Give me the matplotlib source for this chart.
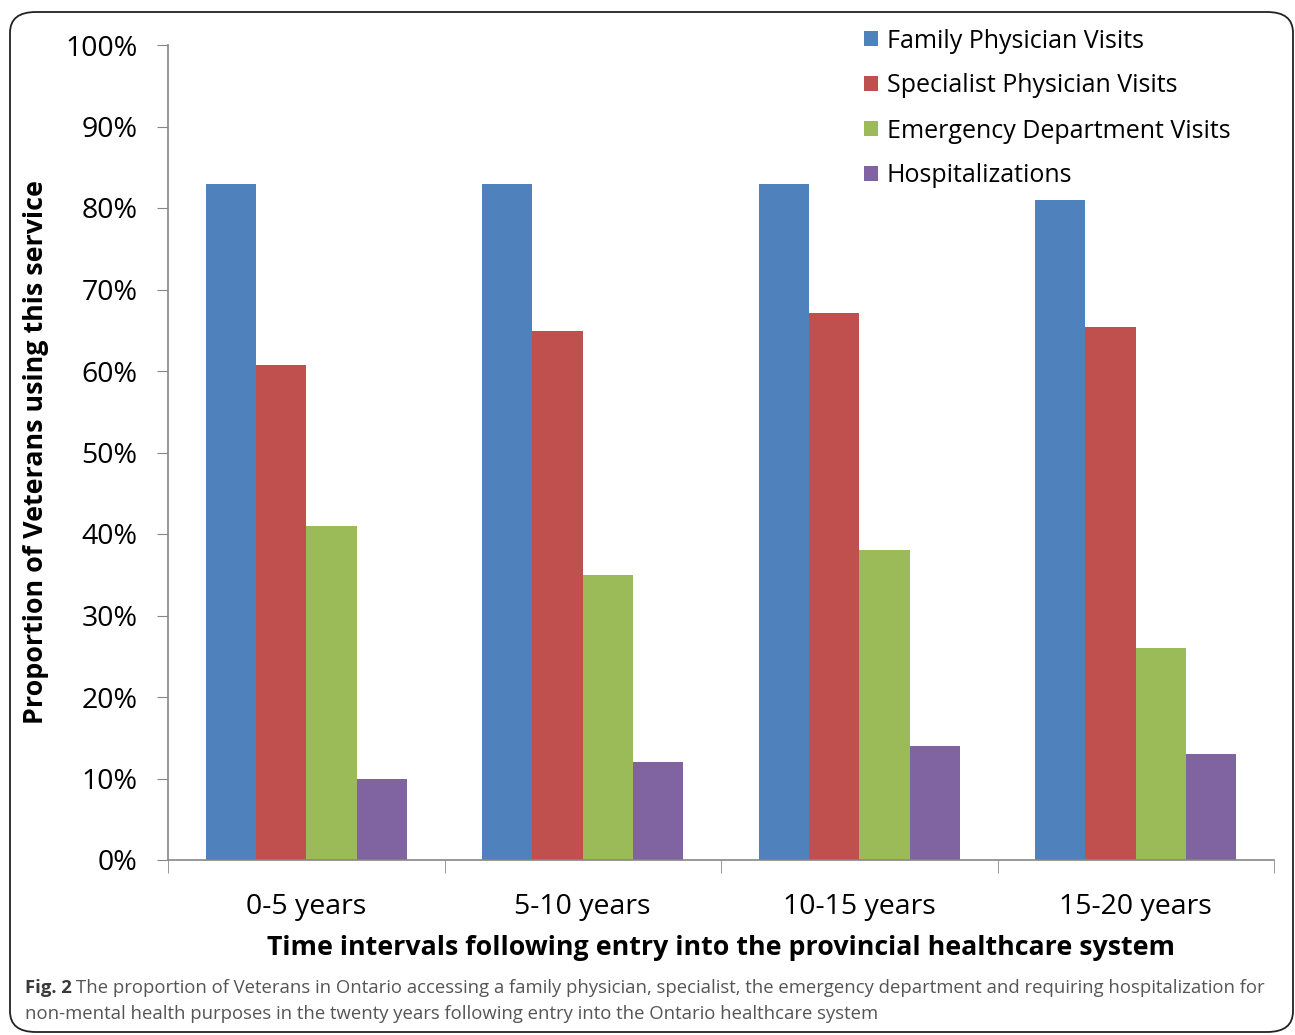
import matplotlib
matplotlib.use('Agg')
import matplotlib.pyplot as plt
from matplotlib.patches import FancyBboxPatch
from matplotlib.ticker import PercentFormatter
import numpy as np

plt.rcParams['font.family'] = ['Open Sans', 'DejaVu Sans']

# data
intervals = ['0-5 years', '5-10 years', '10-15 years', '15-20 years']
series = ['Family Physician Visits', 'Specialist Physician Visits',
          'Emergency Department Visits', 'Hospitalizations']
family = [83, 83, 83, 81]
specialist = [60.7, 64.9, 67.1, 65.4]
emergency = [41, 35, 38, 26]
hospital = [10, 12, 14, 13]
colors = ['#4f81bd', '#c0504d', '#9bbb59', '#8064a2']

fig = plt.figure(figsize=(12.95, 10.35), dpi=100)
ax = fig.add_axes([168/1295, 1-860/1035, (1274-168)/1295, (860-45)/1035])

x = np.arange(len(intervals))
w = 0.182
for i, (vals, name) in enumerate(zip([family, specialist, emergency, hospital], series)):
    ax.bar(x + (i - 1.5) * w, vals, width=w, color=colors[i], label=name)

ax.set_xlim(-0.5, len(intervals) - 0.5)
ax.set_ylim(0, 100)
ax.set_yticks(np.arange(0, 101, 10))
ax.yaxis.set_major_formatter(PercentFormatter(decimals=0))
ax.set_xticks(x)
ax.set_xticklabels(intervals, fontsize=20.5)
ax.set_xticks(np.arange(len(intervals) + 1) - 0.5, minor=True)
ax.tick_params(axis='x', which='major', length=0, pad=24)
ax.tick_params(axis='x', which='minor', length=9, color='#868686', direction='out')
ax.tick_params(axis='y', length=8, color='#868686', labelsize=20.5, pad=14)
for s in ['top', 'right']:
    ax.spines[s].set_visible(False)
for s in ['left', 'bottom']:
    ax.spines[s].set_color('#868686')
    ax.spines[s].set_linewidth(1.2)

ax.set_ylabel('Proportion of Veterans using this service', fontsize=19.4,
              fontweight='bold', labelpad=12)
ax.set_xlabel('Time intervals following entry into the provincial healthcare system',
              fontsize=19.3, fontweight='bold', labelpad=10)

fig.legend(loc='upper left', bbox_to_anchor=(851/1295, 1-16/1035), frameon=False,
           fontsize=18.0, handlelength=0.58, handleheight=0.58, handletextpad=0.35,
           labelspacing=0.8, borderpad=0)

# rounded frame
frame = FancyBboxPatch((10/1295, 3/1035), 1283/1295, 1020/1035,
                       boxstyle='round,pad=0,rounding_size=0.02',
                       transform=fig.transFigure, fill=False,
                       edgecolor='#222222', linewidth=1.3)
fig.patches.append(frame)

# caption
t1 = fig.text(25/1295, 1-988/1035, 'Fig. 2', fontsize=13.3, fontweight='bold',
              color='#3a3a3a', va='center')
fig.canvas.draw()
bb = t1.get_window_extent()
fig.text(bb.x1/1295 + 4/1295, 1-988/1035,
         'The proportion of Veterans in Ontario accessing a family physician, specialist, '
         'the emergency department and requiring hospitalization for',
         fontsize=13.3, color='#555555', va='center')
fig.text(25/1295, 1-1014/1035,
         'non-mental health purposes in the twenty years following entry into the Ontario healthcare system',
         fontsize=13.3, color='#555555', va='center')

fig.savefig('out.png', dpi=100)
